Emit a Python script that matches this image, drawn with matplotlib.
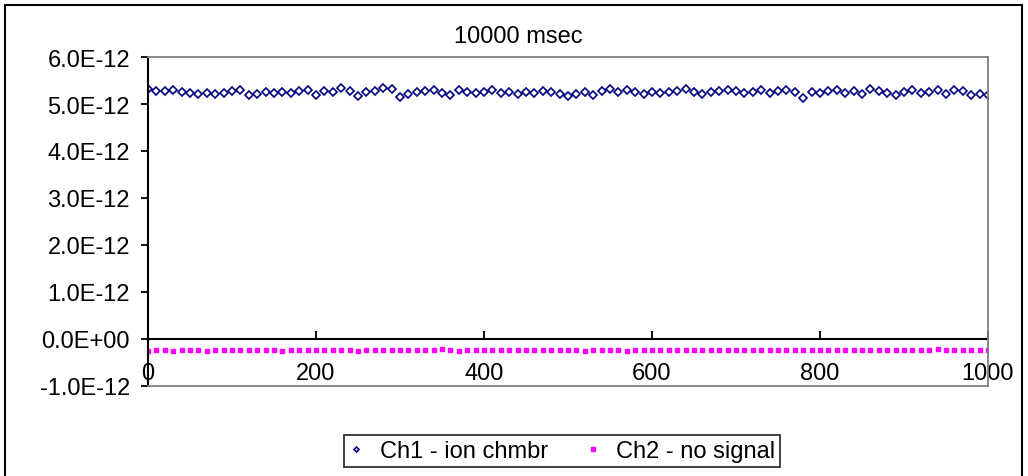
import matplotlib.pyplot as plt
import matplotlib.patches as mpatches
from matplotlib.ticker import FuncFormatter

plt.rcParams['font.family'] = ['Liberation Sans', 'DejaVu Sans']

# Data (in units of 1E-12)
x_vals = list(range(0, 1001, 10))
ch1 = [5.31, 5.27, 5.27, 5.30, 5.25, 5.24, 5.22, 5.23, 5.21, 5.24,
       5.28, 5.30, 5.20, 5.22, 5.25, 5.23, 5.26, 5.24, 5.27, 5.30,
       5.20, 5.27, 5.25, 5.33, 5.28, 5.17, 5.26, 5.28, 5.35, 5.31,
       5.15, 5.22, 5.25, 5.27, 5.29, 5.24, 5.20, 5.30, 5.25, 5.24,
       5.26, 5.29, 5.23, 5.25, 5.22, 5.26, 5.24, 5.28, 5.25, 5.21,
       5.17, 5.22, 5.25, 5.20, 5.28, 5.32, 5.26, 5.29, 5.25, 5.22,
       5.25, 5.23, 5.26, 5.28, 5.31, 5.26, 5.22, 5.25, 5.28, 5.30,
       5.27, 5.23, 5.26, 5.29, 5.24, 5.27, 5.30, 5.25, 5.12, 5.26,
       5.24, 5.28, 5.30, 5.24, 5.27, 5.22, 5.31, 5.28, 5.24, 5.20,
       5.26, 5.29, 5.23, 5.26, 5.30, 5.22, 5.29, 5.27, 5.20, 5.21,
       5.20]
ch2 = [-0.25, -0.24, -0.24, -0.25, -0.24, -0.24, -0.24, -0.25, -0.23, -0.24,
       -0.24, -0.24, -0.23, -0.24, -0.24, -0.24, -0.25, -0.24, -0.24, -0.24,
       -0.24, -0.24, -0.24, -0.23, -0.24, -0.25, -0.24, -0.24, -0.24, -0.24,
       -0.24, -0.24, -0.23, -0.24, -0.24, -0.22, -0.23, -0.25, -0.24, -0.24,
       -0.23, -0.24, -0.24, -0.24, -0.24, -0.23, -0.24, -0.24, -0.24, -0.24,
       -0.24, -0.24, -0.25, -0.24, -0.24, -0.24, -0.24, -0.25, -0.24, -0.24,
       -0.23, -0.24, -0.23, -0.24, -0.24, -0.24, -0.24, -0.24, -0.24, -0.23,
       -0.24, -0.24, -0.24, -0.24, -0.24, -0.23, -0.24, -0.24, -0.24, -0.24,
       -0.24, -0.24, -0.24, -0.24, -0.23, -0.24, -0.24, -0.24, -0.24, -0.23,
       -0.24, -0.24, -0.24, -0.24, -0.22, -0.24, -0.24, -0.24, -0.24, -0.24,
       -0.24]
scale = 1e-12
x_ticks = [0, 200, 400, 600, 800, 1000]
y_ticks = [-1, 0, 1, 2, 3, 4, 5, 6]

fig = plt.figure(figsize=(10.28, 4.77), dpi=100)
ax = fig.add_axes([0.144, 0.1887, 0.817, 0.6897])

ax.plot(x_vals, [v * scale for v in ch1], ls='none', marker='D', ms=3.6,
        mfc='white', mec='#000080', mew=1.2, label='Ch1 - ion chmbr')
ax.plot(x_vals, [v * scale for v in ch2], ls='none', marker='s', ms=3.4,
        mfc='#ff00ff', mec='#ff00ff', mew=1.0, label='Ch2 - no signal')

ax.set_xlim(0, 1000)
ax.set_ylim(-1e-12, 6e-12)
ax.set_yticks([t * scale for t in y_ticks])
ax.yaxis.set_major_formatter(FuncFormatter(lambda v, p: f"{v:.1E}"))
ax.tick_params(axis='y', direction='out', length=5, width=1.3, labelsize=17,
               pad=8, colors='black')

# bottom axis: labels only, sitting on the lower border
ax.set_xticks(x_ticks)
ax.tick_params(axis='x', length=0, labelsize=17, pad=-17)

for s in ['top', 'right', 'bottom']:
    ax.spines[s].set_color('#808080')
    ax.spines[s].set_linewidth(1.3)
ax.spines['left'].set_color('black')
ax.spines['left'].set_linewidth(1.5)

# x axis line crossing at y = 0 with upward ticks
sec = ax.secondary_xaxis(0, transform=ax.transData)
sec.set_xticks(x_ticks)
sec.tick_params(direction='in', length=6, width=1.3, labelbottom=False)
sec.spines['bottom'].set_color('black')
sec.spines['bottom'].set_linewidth(1.5)

fig.text(0.504, 0.922, '10000 msec', ha='center', va='center', fontsize=17)

leg = fig.legend(loc='center', bbox_to_anchor=(0.547, 0.052), ncol=2,
                 fontsize=17, frameon=True, fancybox=False, edgecolor='black',
                 handlelength=0.6, handletextpad=0.7, columnspacing=1.6,
                 borderpad=0.2, markerscale=0.7)
leg.get_frame().set_linewidth(1.3)

# outer chart border
fig.patches.append(mpatches.Rectangle((5 / 1028, -0.1), 1017 / 1028, 1.1 - 6 / 477,
                                      transform=fig.transFigure, fill=False,
                                      edgecolor='black', linewidth=1.5))

plt.savefig('out.png', dpi=100)
